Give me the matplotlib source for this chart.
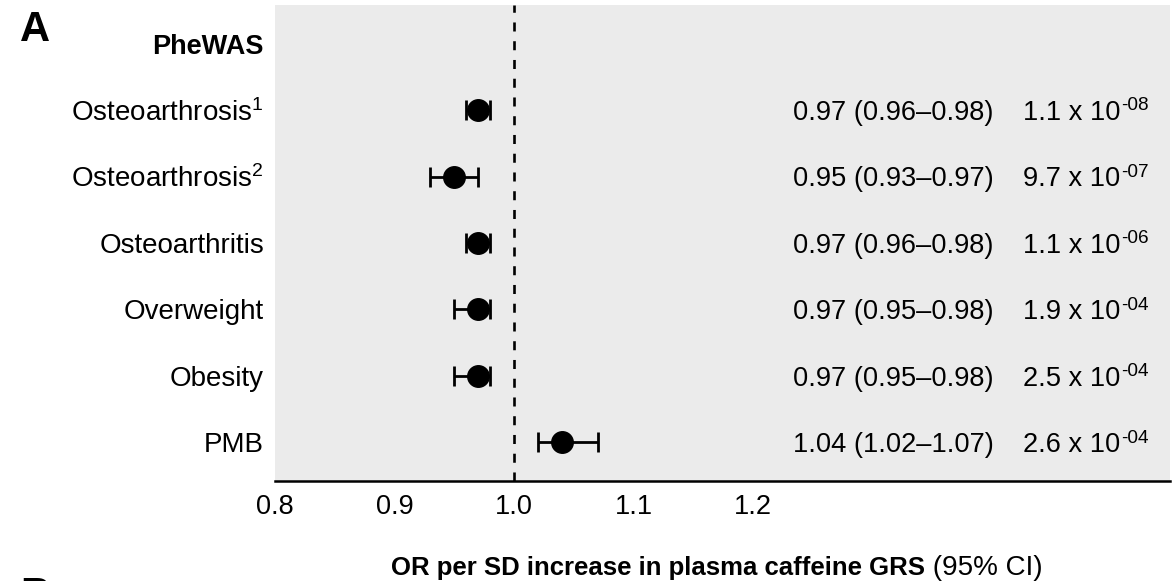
import matplotlib
matplotlib.use("Agg")
import matplotlib.pyplot as plt
from matplotlib.transforms import blended_transform_factory, ScaledTranslation

plt.rcParams['font.family'] = ['Liberation Sans', 'DejaVu Sans']
plt.rcParams['mathtext.fontset'] = 'custom'
plt.rcParams['mathtext.rm'] = 'Liberation Sans'
plt.rcParams['mathtext.it'] = 'Liberation Sans:italic'
plt.rcParams['mathtext.bf'] = 'Liberation Sans:bold'
plt.rcParams['lines.scale_dashes'] = False

# ---- data -------------------------------------------------------------
header = "PheWAS"
outcomes = ["Osteoarthrosis$^{1}$", "Osteoarthrosis$^{2}$", "Osteoarthritis",
            "Overweight", "Obesity", "PMB"]
odds_ratio = [0.97, 0.95, 0.97, 0.97, 0.97, 1.04]
ci_low = [0.96, 0.93, 0.96, 0.95, 0.95, 1.02]
ci_high = [0.98, 0.97, 0.98, 0.98, 0.98, 1.07]
p_mantissa = ["1.1", "9.7", "1.1", "1.9", "2.5", "2.6"]
p_exponent = ["-08", "-07", "-06", "-04", "-04", "-04"]
x_ticks = [0.8, 0.9, 1.0, 1.1, 1.2]
x_tick_labels = ["0.8", "0.9", "1.0", "1.1", "1.2"]

FS_ROW = 20
FS_TXT = 19.6
W, H = 1174, 581

fig = plt.figure(figsize=(W / 100, H / 100), dpi=100)
fig.patch.set_facecolor("white")

ax_left, ax_right, ax_top, ax_bottom = 275, 1170, 5, 481
ax = fig.add_axes([ax_left / W, 1 - ax_bottom / H,
                   (ax_right - ax_left) / W, (ax_bottom - ax_top) / H])
ax.set_facecolor("#EBEBEB")
for side in ("top", "left", "right"):
    ax.spines[side].set_visible(False)
ax.spines["bottom"].set_color("black")
ax.spines["bottom"].set_linewidth(1.8)

rows = list(range(1, len(outcomes) + 1))

# reference line at OR = 1
ax.axvline(1.0, color="black", lw=1.9, dashes=(6.5, 7), zorder=1)

xerr = [[o - lo for o, lo in zip(odds_ratio, ci_low)],
        [hi - o for o, hi in zip(odds_ratio, ci_high)]]
ax.errorbar(odds_ratio, rows, xerr=xerr, fmt="o", color="black",
            ms=15.5, elinewidth=2.0, capsize=7, capthick=2.0, zorder=3)

ax.set_xlim(0.8, 1.549)
ax.set_ylim(len(outcomes) + 0.58, -0.58)
ax.set_xticks(x_ticks)
ax.set_xticklabels(x_tick_labels, fontsize=19.5)
ax.set_yticks([0] + rows)
ax.set_yticklabels([header] + outcomes, fontsize=FS_ROW)
ax.get_yticklabels()[0].set_fontweight("bold")
ax.get_yticklabels()[0].set_fontsize(19.5)
ax.tick_params(axis="both", length=0)
ax.tick_params(axis="y", pad=8)
ax.tick_params(axis="x", pad=9)

# estimate and p-value columns
trans = blended_transform_factory(ax.transAxes, ax.transData)
base_tr = trans + ScaledTranslation(0, -7.1 / 72, fig.dpi_scale_trans)
exp_tr = trans + ScaledTranslation(0, -0.3 / 72, fig.dpi_scale_trans)
ci_x = (793 - ax_left) / (ax_right - ax_left)
p_x = (1023 - ax_left) / (ax_right - ax_left)

p_texts = []
for r, o, lo, hi, m in zip(rows, odds_ratio, ci_low, ci_high, p_mantissa):
    ax.text(ci_x, r, f"{o:.2f} ({lo:.2f}\u2013{hi:.2f})", transform=base_tr,
            fontsize=FS_TXT, va="baseline", ha="left")
    p_texts.append(ax.text(p_x, r, f"{m} x 10", transform=base_tr,
                           fontsize=FS_TXT, va="baseline", ha="left"))

# panel letters
fig.text(20 / W, 1 - 41 / H, "A", fontsize=30, fontweight="bold", va="baseline")
fig.text(20 / W, 1 - 607 / H, "B", fontsize=30, fontweight="bold", va="baseline")

# x-axis title: bold part followed by regular part
lab_y = 1 - 575 / H
t_bold = fig.text(0, lab_y, "OR per SD increase in plasma caffeine GRS",
                  fontsize=18.5, fontweight="bold", va="baseline", ha="left")
t_norm = fig.text(0, lab_y, " (95% CI)", fontsize=20, va="baseline", ha="left")

fig.canvas.draw()
renderer = fig.canvas.get_renderer()

# exponents placed right after each mantissa
inv = ax.transAxes.inverted()
for r, t, e in zip(rows, p_texts, p_exponent):
    bb = t.get_window_extent(renderer)
    x_end = inv.transform((bb.x1 + 1, 0))[0]
    ax.text(x_end, r, e, transform=exp_tr, fontsize=FS_TXT * 0.7,
            va="baseline", ha="left")

w_bold = t_bold.get_window_extent(renderer).width
w_norm = t_norm.get_window_extent(renderer).width
center_px = (ax_left + ax_right) / 2 - 6
start_px = center_px - (w_bold + w_norm) / 2
t_bold.set_x(start_px / W)
t_norm.set_x((start_px + w_bold) / W)

fig.savefig("out.png", dpi=100)
